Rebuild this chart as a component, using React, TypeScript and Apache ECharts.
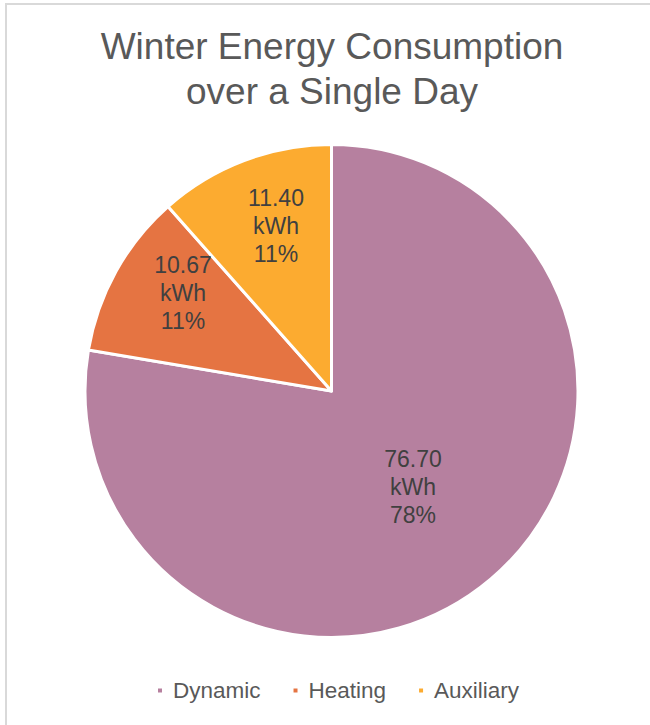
import React, { useEffect, useRef } from "react";
import * as echarts from "echarts";

const titleLines = ["Winter Energy Consumption", "over a Single Day"];
const categories = ["Dynamic", "Heating", "Auxiliary"];
const values = [76.7, 10.67, 11.4];
const unit = "kWh";
const colors = ["#B6809F", "#E57442", "#FCAB30"];
// which slices get their label drawn at the outer label ring (small slices)
const outerLabel = [false, true, true];
const labelNudge: [number, number][] = [[0, 0], [8, -11], [8, 2]];

const FONT = '"Liberation Sans", Arial, Helvetica, sans-serif';

export default function App() {
  const ref = useRef<HTMLDivElement>(null);

  useEffect(() => {
    if (!ref.current) return;
    const chart = echarts.init(ref.current, undefined, { renderer: "svg" });

    const fmt = (p: any) =>
      `${Number(p.value).toFixed(2)}\n${unit}\n${p.percent}%`;

    const labelStyle = {
      position: "inside" as const,
      color: "#404040",
      fontSize: 23,
      lineHeight: 28,
      fontFamily: FONT,
      formatter: fmt,
    };

    const mainData = categories.map((name, i) => ({
      name,
      value: values[i],
      itemStyle: { color: colors[i] },
      label: { show: !outerLabel[i] },
    }));

    const overlayData = categories.map((name, i) => ({
      name,
      value: values[i],
      label: { show: outerLabel[i], offset: labelNudge[i] },
    }));

    chart.setOption({
      animation: false,
      backgroundColor: "#ffffff",
      title: {
        text: titleLines.join("\n"),
        left: 327,
        top: 19,
        textAlign: "center",
        textStyle: {
          color: "#595959",
          fontSize: 37,
          fontWeight: "normal",
          fontFamily: FONT,
          lineHeight: 45,
        },
      },
      legend: {
        data: categories,
        left: 156,
        top: 679,
        padding: 0,
        itemGap: 31,
        itemWidth: 11,
        itemHeight: 6,
        icon: "path://M0 0H6V6H0Z M11 0",
        textStyle: { color: "#595959", fontSize: 22.5, fontFamily: FONT },
        selectedMode: false,
      },
      graphic: [
        {
          type: "rect",
          shape: { x: 6, y: 4, width: 700, height: 800 },
          style: { fill: "none", stroke: "#d9d9d9", lineWidth: 2 },
          silent: true,
          z: -10,
        },
      ],
      series: [
        {
          type: "pie",
          center: [331.5, 391],
          radius: [0, 246.5],
          startAngle: 90,
          clockwise: true,
          percentPrecision: 0,
          itemStyle: { borderColor: "#ffffff", borderWidth: 3 },
          label: labelStyle,
          labelLine: { show: false },
          emphasis: { disabled: true },
          data: mainData,
          z: 2,
        },
        {
          type: "pie",
          center: [331.5, 391],
          radius: [0, 352],
          startAngle: 90,
          clockwise: true,
          percentPrecision: 0,
          silent: true,
          legendHoverLink: false,
          itemStyle: { color: "rgba(0,0,0,0)", borderWidth: 0 },
          label: labelStyle,
          labelLine: { show: false },
          emphasis: { disabled: true },
          data: overlayData,
          z: 3,
        },
      ],
    });

    return () => chart.dispose();
  }, []);

  return (
    <div
      ref={ref}
      style={{ position: "absolute", left: 0, top: 0, width: 650, height: 725 }}
    />
  );
}
